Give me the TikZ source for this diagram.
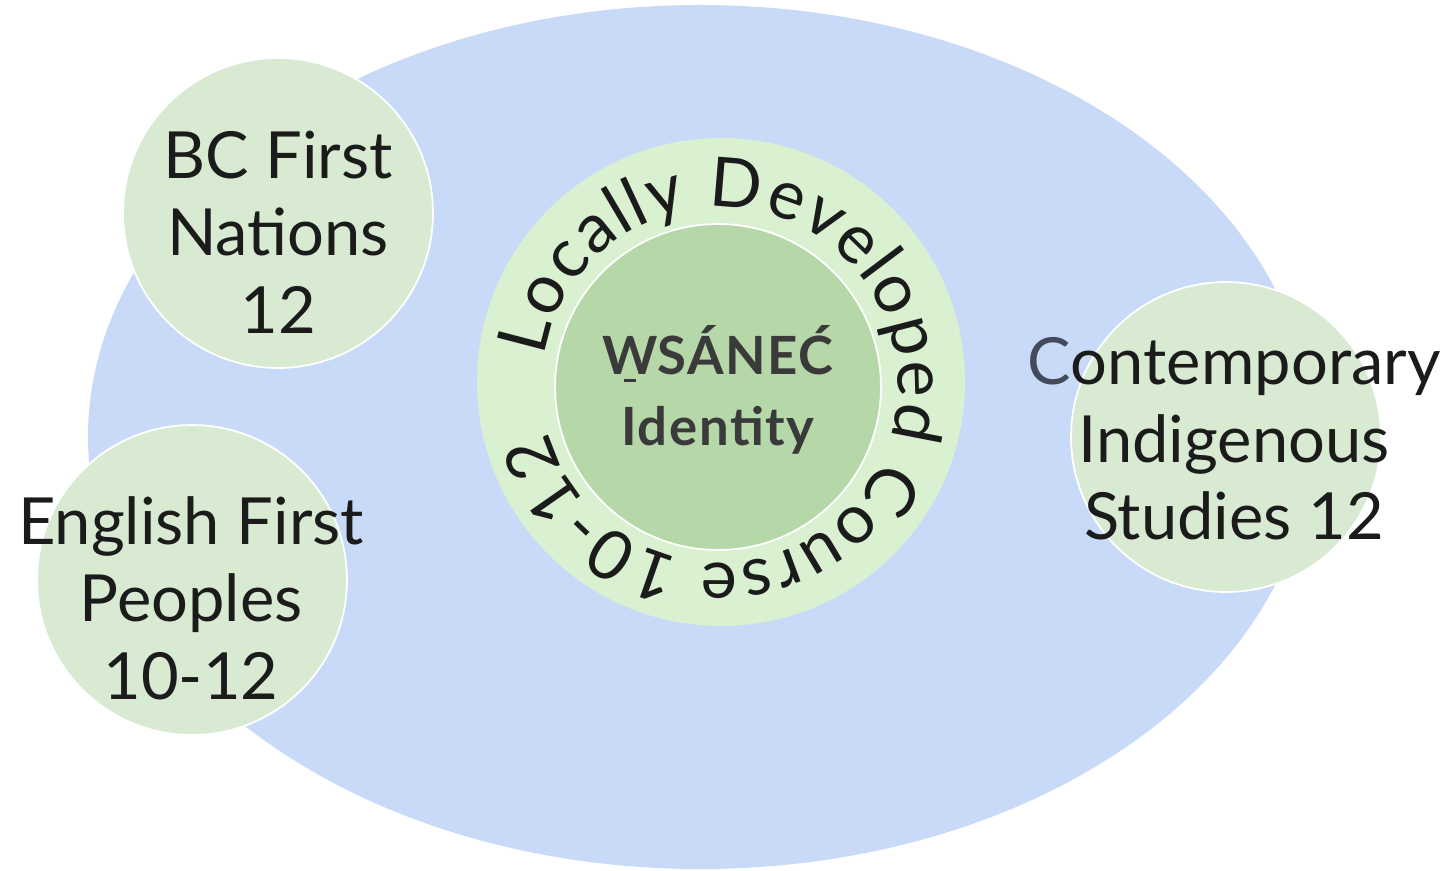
\documentclass[tikz,border=0pt]{standalone}
\usepackage{fontspec}
\setmainfont{Lato}
\usetikzlibrary{decorations.text}

\definecolor{skyblue}{HTML}{C9DAF8}
\definecolor{leafgreen}{HTML}{D9EAD3}
\definecolor{palegreen}{HTML}{D9F1D1}
\definecolor{sagegreen}{HTML}{B6D7A8}
\definecolor{inkblack}{HTML}{1B1B1B}
\definecolor{inkgrey}{HTML}{3A3A3A}
\definecolor{slate}{HTML}{434A5A}

\newcommand\coursefont{\fontsize{37}{44}\selectfont}
\newcommand\ringfont{\fontsize{39}{40}\selectfont}
\newcommand\corefont{\fontsize{30}{40}\selectfont\bfseries\addfontfeature{LetterSpace=3}}
% W with a short bar underneath
\newcommand\Wbar{\ooalign{W\cr\hidewidth\rule[-0.13em]{0.22em}{0.06em}\hidewidth\cr}}

\tikzset{
  course/.style={circle, fill=leafgreen, draw=white, line width=1pt,
    minimum size=6.2cm, inner sep=0pt},
  coursetext/.style={align=center, font=\coursefont, text=inkblack, inner sep=0pt},
}

\begin{document}
\begin{tikzpicture}[x=0.02cm,y=0.02cm]
        \useasboundingbox (0,0) rectangle (1449,870);

        % the big blue field
        \fill[skyblue] (700,433) ellipse[x radius=612, y radius=432];

        % centre: ring and core
        \node[circle, fill=palegreen, minimum size=9.76cm, inner sep=0pt] (hub) at (721,488) {};
        \node[circle, fill=sagegreen, draw=white, line width=1pt,
              minimum size=6.52cm, inner sep=0pt] (core) at (718,483) {};
        \node[align=center, font=\corefont, text=inkgrey, inner sep=0pt]
              (identity) at (718,480) {\Wbar S\'ANE\'C\\Identity};

        % course name running round the ring, spread over nearly the whole turn
        \path[decorate, decoration={text effects along path,
              text={Locally Developed Course 10-12},
              text effects/.cd, text along path, fit text to path,
              characters={font=\ringfont, text=inkblack, inner sep=0pt}}]
              (720,485) ++(171:178) arc[start angle=171, end angle=-165, radius=178];

        % the three outer courses
        \node[course] (bcfn) at (278,657) {};
        \node[course] (efp)  at (192,290) {};
        \node[course] (cis)  at (1226,433) {};

        \node[coursetext] (bcfntext) at (278,638) {BC First\\Nations\\12};
        \node[coursetext] (efptext)  at (191,272) {English First\\Peoples\\10-12};
        \node[coursetext] (cistext)  at (1234,431)
              {{\color{slate}C}ontemporary\\Indigenous\\Studies 12};
\end{tikzpicture}
\end{document}
